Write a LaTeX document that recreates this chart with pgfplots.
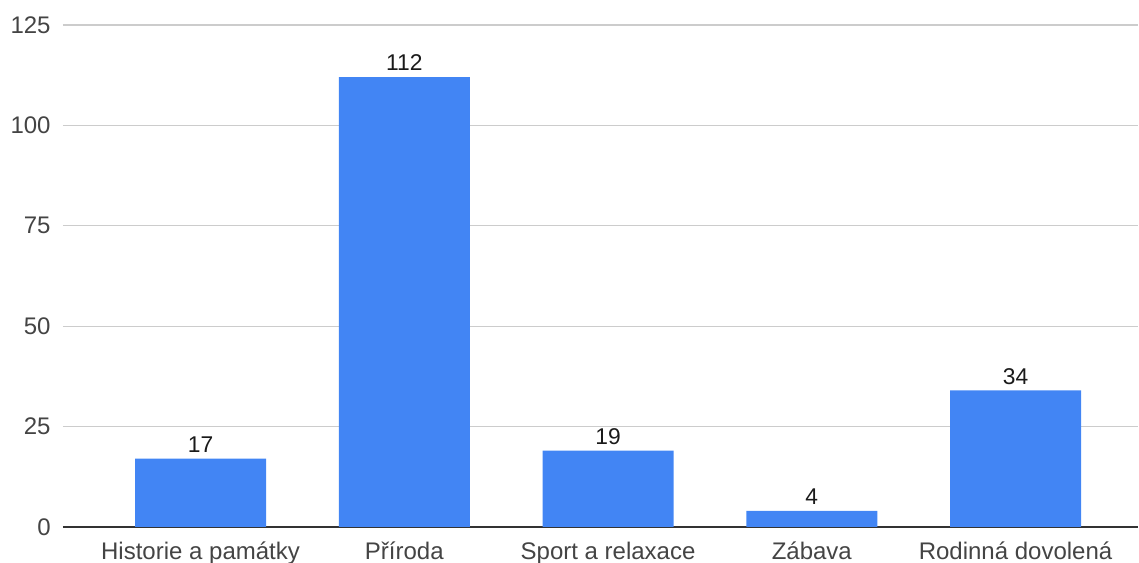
\documentclass[border=0pt]{standalone}
\usepackage{fontspec}
\setmainfont{Liberation Sans}
\usepackage{pgfplots}
\pgfplotsset{compat=1.18}
\definecolor{barblue}{HTML}{4285F4}
\definecolor{gridgray}{HTML}{CCCCCC}
\definecolor{ticktext}{HTML}{444444}
\definecolor{labeltext}{HTML}{1A1A1A}
\definecolor{zeroline}{HTML}{333333}
\begin{document}
\begin{tikzpicture}
\begin{axis}[
  name=ax,
  scale only axis,
  width=537.5bp, height=251bp,
  xmin=-0.675, xmax=4.601,
  ymin=0, ymax=125,
  ytick={0,25,50,75,100,125},
  xtick={0,1,2,3,4},
  xticklabels={Historie a památky, Příroda, Sport a relaxace, Zábava, Rodinná dovolená},
  axis line style={draw=none},
  major tick length=0pt,
  ymajorgrids,
  grid style={gridgray, line width=0.6bp},
  extra y ticks={0},
  extra y tick labels={},
  extra y tick style={grid style={zeroline, line width=1bp}},
  /pgf/number format/assume math mode=true,
  tick label style={font=\fontsize{12bp}{14bp}\selectfont, text=ticktext},
  yticklabel style={anchor=east, inner sep=0pt, xshift=-6bp},
  xticklabel style={anchor=base, inner sep=0pt, yshift=-16bp},
  ybar, bar width=65.5bp,
  nodes near coords,
  nodes near coords style={font=\fontsize{11.4bp}{13bp}\selectfont, text=labeltext, anchor=base, inner sep=0pt, yshift=3.2bp},
]
\addplot[fill=barblue, draw=none] coordinates {(0,17) (1,112) (2,19) (3,4) (4,34)};
\end{axis}
\pgfresetboundingbox
\path ([xshift=-31.5bp,yshift=-18bp]ax.south west) rectangle ([xshift=0.5bp,yshift=12.5bp]ax.north east);
\end{tikzpicture}
\end{document}
